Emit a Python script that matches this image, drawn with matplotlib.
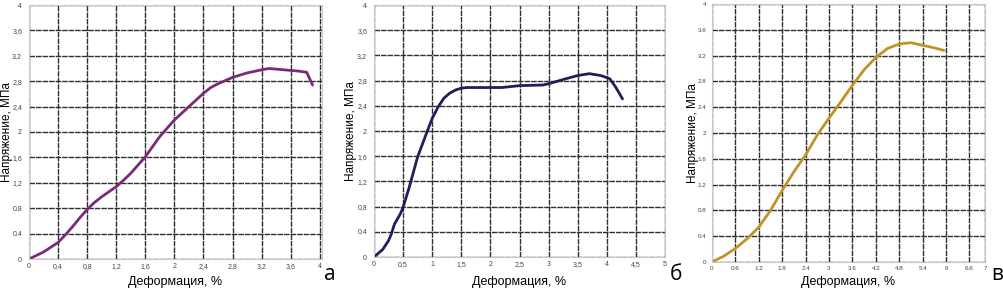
import matplotlib
matplotlib.use("Agg")
import matplotlib.pyplot as plt

plt.rcParams['font.family'] = ['Liberation Sans', 'DejaVu Sans']

# panel a
a_x = [0, 0.2, 0.4, 0.5, 0.6, 0.7, 0.8, 0.9, 1.0, 1.1, 1.2, 1.3, 1.4, 1.6, 1.8, 2.0, 2.2, 2.4, 2.5, 2.6, 2.7, 2.8, 3.0, 3.2, 3.3, 3.4, 3.6, 3.7, 3.82, 3.9]
a_y = [0, 0.11, 0.26, 0.38, 0.51, 0.65, 0.78, 0.89, 0.98, 1.06, 1.14, 1.24, 1.35, 1.61, 1.93, 2.19, 2.40, 2.61, 2.70, 2.76, 2.81, 2.86, 2.93, 2.98, 3.0, 2.99, 2.97, 2.96, 2.94, 2.74]
a_xticks = [0, 0.4, 0.8, 1.2, 1.6, 2, 2.4, 2.8, 3.2, 3.6, 4]
a_xlabels = ['0', '0,4', '0,8', '1,2', '1,6', '2', '2,4', '2,8', '3,2', '3,6', '4']
a_ylabels = ['0', '0.4', '0.8', '1,2', '1,6', '2', '2,4', '2,8', '3,2', '3,6', '4']

# panel b
b_x = [0, 0.15, 0.25, 0.3, 0.35, 0.45, 0.5, 0.6, 0.75, 0.9, 1.0, 1.1, 1.2, 1.3, 1.4, 1.5, 1.6, 2.0, 2.2, 2.5, 2.9, 3.0, 3.3, 3.5, 3.7, 3.9, 4.05, 4.15, 4.27]
b_y = [0, 0.12, 0.26, 0.37, 0.52, 0.68, 0.79, 1.09, 1.59, 1.96, 2.2, 2.38, 2.52, 2.60, 2.65, 2.68, 2.69, 2.69, 2.69, 2.72, 2.73, 2.75, 2.83, 2.88, 2.91, 2.88, 2.83, 2.70, 2.51]
b_xticks = [0, 0.5, 1, 1.5, 2, 2.5, 3, 3.5, 4, 4.5, 5]
b_xlabels = ['0', '0,5', '1', '1,5', '2', '2,5', '3', '3,5', '4', '4,5', '5']
b_ylabels = ['0', '0.4', '0,8', '1,2', '1,6', '2', '2,4', '2,8', '3,2', '3,6', '4']

# panel c
c_x = [0, 0.3, 0.6, 0.9, 1.2, 1.5, 1.8, 2.1, 2.4, 2.7, 3.0, 3.3, 3.6, 3.9, 4.2, 4.5, 4.8, 5.1, 5.4, 5.7, 5.95]
c_y = [0, 0.09, 0.21, 0.36, 0.54, 0.80, 1.11, 1.40, 1.66, 1.97, 2.23, 2.48, 2.74, 2.98, 3.17, 3.31, 3.38, 3.40, 3.36, 3.32, 3.28]
c_xticks = [0, 0.6, 1.2, 1.8, 2.4, 3, 3.6, 4.2, 4.8, 5.4, 6, 6.6, 7]
c_xlabels = ['0', '0.6', '1.2', '1.8', '2.4', '3', '3.6', '4.2', '4.8', '5.4', '6', '6.6', '7']
c_ylabels = ['0', '0.4', '0.8', '1.2', '1.6', '2', '2.4', '2.8', '3.2', '3.6', '4']

yticks = [0, 0.4, 0.8, 1.2, 1.6, 2, 2.4, 2.8, 3.2, 3.6, 4]

W, H = 1004, 288
fig = plt.figure(figsize=(W / 100, H / 100), dpi=100)


def box(l, r, t, b):
    return [l / W, 1 - b / H, (r - l) / W, (b - t) / H]


panels = [
    (box(29, 322, 5, 259), a_x, a_y, a_xticks, a_xlabels, a_ylabels, 4.03, '#7a2a78', 5, 5, 'а', 330, -0.076, -0.09),
    (box(374, 665, 5, 257), b_x, b_y, b_xticks, b_xlabels, b_ylabels, 5.0, '#1e1f5c', 5, 5, 'б', 676, -0.079, -0.099),
    (box(712, 985, 4, 262), c_x, c_y, c_xticks, c_xlabels, c_ylabels, 7.0, '#bf9327', 4.5, 4, 'в', 997, -0.07, -0.078),
]

for rect, x, y, xt, xl, yl, xmax, col, fs, pad, letter, lx, ylx, xly in panels:
    ax = fig.add_axes(rect)
    ax.plot(x, y, color=col, lw=2, solid_capstyle='round', solid_joinstyle='round')
    ax.set_xlim(0, xmax)
    ax.set_ylim(0, 4)
    ax.set_xticks(xt)
    ax.set_xticklabels(xl, fontsize=fs, color='#444444')
    ax.set_yticks(yticks)
    ax.set_yticklabels(yl, fontsize=fs, color='#444444')
    ax.tick_params(axis='y', length=0, pad=pad)
    ax.tick_params(axis='x', length=0, pad=3)
    ax.grid(True, color='#2e2e2e', lw=1.0, ls=(0, (4, 0.7)))
    for s in ax.spines.values():
        s.set_color('#c8c8c8')
        s.set_linewidth(0.8)
    ax.set_xlabel('Деформация, %', fontsize=9)
    ax.set_ylabel('Напряжение, МПа', fontsize=8.5)
    ax.yaxis.set_label_coords(ylx, 0.5)
    ax.xaxis.set_label_coords(0.5, xly)
    ax.xaxis.label.set_va('center')
    ax.yaxis.label.set_va('center')
    fig.text(lx / W, 1 - 275 / H, letter, fontsize=15, ha='center', va='center',
             family=['Open Sans', 'DejaVu Sans'])

fig.savefig('out.png', dpi=100)
